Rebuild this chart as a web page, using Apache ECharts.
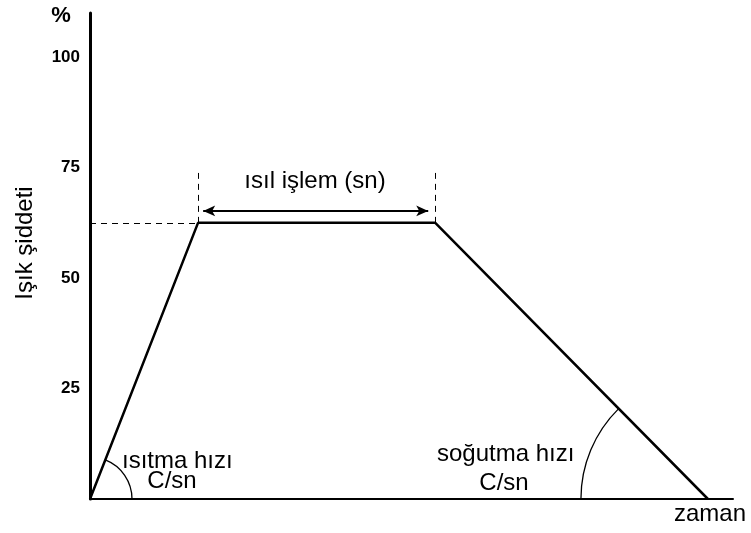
<!DOCTYPE html>
<html>
<head>
<meta charset="utf-8">
<script src="https://cdn.jsdelivr.net/npm/echarts@6/dist/echarts.min.js"></script>
<style>
html,body{margin:0;padding:0;background:#fff;}
#chartID{width:751px;height:533px;}
</style>
</head>
<body>
<div id="chartID"></div>
<script>
//ısıl işlem profili: zaman - ışık şiddeti
var profileTimes=[0, 16.8, 53.7, 96.1];
var profileValues=[0, 62.5, 62.5, 0];
var yTickLabels=[25, 50, 75, 100];
var holdStart=16.8, holdEnd=53.7, holdLevel=62.5;
var arrowLevel=65.2, dashTop=73.8;
var arrowStart=17.6, arrowEnd=52.6;

var chart_graphID=echarts.init(document.getElementById('chartID'));
var fontName='"Liberation Sans", Arial, sans-serif';

var profileData=[];
for(var i=0;i<profileTimes.length;i++){
	profileData.push([profileTimes[i], profileValues[i]]);
}

var option={
	animation:false,
	grid:{left:90, right:18, top:13, bottom:34},
	xAxis:{
		type:'value', min:0, max:100,
		axisLine:{lineStyle:{color:'#000', width:2}},
		axisTick:{show:false}, axisLabel:{show:false}, splitLine:{show:false}
	},
	yAxis:{
		type:'value', min:0, max:110, interval:25,
		axisLine:{show:true, lineStyle:{color:'#000', width:3}},
		axisTick:{show:false}, splitLine:{show:false},
		axisLabel:{
			color:'#000', fontFamily:fontName, fontSize:17, fontWeight:'bold', margin:10,
			padding:[9,0,0,0],
			formatter:function(v){ return yTickLabels.indexOf(v)>=0 ? String(v) : ''; }
		}
	},
	series:[
		{
			type:'line', data:profileData, symbol:'none',
			lineStyle:{color:'#000', width:2.5},
			markLine:{
				silent:true, symbol:'none', label:{show:false},
				lineStyle:{color:'#000', type:[6,5], width:1},
				data:[
					[{coord:[0, holdLevel]}, {coord:[holdStart, holdLevel]}],
					[{coord:[holdStart, holdLevel]}, {coord:[holdStart, dashTop]}],
					[{coord:[holdEnd, holdLevel]}, {coord:[holdEnd, dashTop]}],
					[{coord:[arrowStart, arrowLevel], symbol:'arrow', symbolSize:[8,12],
					  lineStyle:{type:'solid', width:1.8}},
					 {coord:[arrowEnd, arrowLevel], symbol:'arrow', symbolSize:[8,12]}]
				]
			}
		}
	]
};
chart_graphID.setOption(option);

function txt(s, x, y, align, size, rot, weight){
	return {type:'text', x:x, y:y, rotation:rot||0,
		style:{text:s, fill:'#000', font:(weight||'normal')+' '+(size||24)+'px '+fontName,
			align:align||'left', verticalAlign:'middle'}};
}

var o=chart_graphID.convertToPixel('grid', [0,0]);
var up=chart_graphID.convertToPixel('grid', [profileTimes[1], profileValues[1]]);
var d=chart_graphID.convertToPixel('grid', [profileTimes[3], profileValues[3]]);
var dn=chart_graphID.convertToPixel('grid', [profileTimes[2], profileValues[2]]);
var aHeat=Math.atan2(up[1]-o[1], up[0]-o[0]);
var aCool=Math.atan2(dn[1]-d[1], dn[0]-d[0])+Math.PI*2;

chart_graphID.setOption({
	graphic:[
		txt('%', 61, 16, 'center', 22, 0, 'bold'),
		txt('Işık şiddeti', 25, 243, 'center', 24, Math.PI/2),
		txt('ısıl işlem (sn)', 315, 181, 'center', 24),
		txt('ısıtma hızı', 122, 461, 'left', 24),
		txt('C/sn', 172, 481, 'center', 24),
		txt('soğutma hızı', 437, 454, 'left', 24),
		txt('C/sn', 504, 483, 'center', 24),
		txt('zaman', 710, 514, 'center', 24),
		{type:'arc', shape:{cx:o[0], cy:o[1], r:42, startAngle:aHeat, endAngle:0},
		 style:{stroke:'#000', fill:null, lineWidth:1.3}},
		{type:'arc', shape:{cx:d[0], cy:d[1], r:127, startAngle:Math.PI, endAngle:aCool},
		 style:{stroke:'#000', fill:null, lineWidth:1.3}}
	]
});
</script>
</body>
</html>
